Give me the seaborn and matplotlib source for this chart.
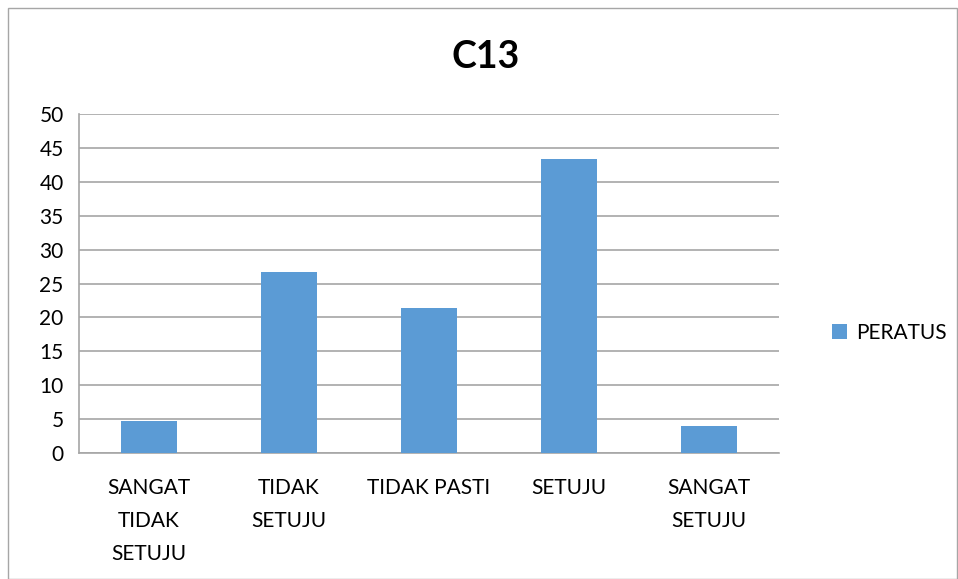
import matplotlib
matplotlib.use("Agg")
import matplotlib.pyplot as plt
from matplotlib.patches import Rectangle
from matplotlib.ticker import FixedLocator
import pandas as pd
import seaborn as sns

# chart data
categories = ["SANGAT\nTIDAK\nSETUJU", "TIDAK\nSETUJU", "TIDAK PASTI", "SETUJU", "SANGAT\nSETUJU"]
peratus = [4.67, 26.67, 21.33, 43.33, 4.0]
series_name = "PERATUS"
title = "C13"
y_ticks = [0, 5, 10, 15, 20, 25, 30, 35, 40, 45, 50]

sns.set_style("white")
plt.rcParams["font.family"] = ["Lato", "DejaVu Sans"]
plt.rcParams["text.color"] = "black"

df = pd.DataFrame({"kategori": categories, "nilai": peratus})

fig = plt.figure(figsize=(9.58, 5.79), dpi=100)
ax = fig.add_axes([79 / 958, 1 - 453 / 579, 700 / 958, 339 / 579])

bar_color = "#5b9bd5"
grid_color = "#a6a6a6"

sns.barplot(data=df, x="kategori", y="nilai", color=bar_color, width=0.4,
            saturation=1, ax=ax, linewidth=0, zorder=3)

ax.set_ylim(0, 50)
ax.set_xlim(-0.5, len(categories) - 0.5)
ax.set_yticks(y_ticks)
ax.yaxis.grid(True, color=grid_color, linewidth=1.2, zorder=0)
ax.set_axisbelow(True)
ax.set_xlabel("")
ax.set_ylabel("")

for side in ["top", "right"]:
    ax.spines[side].set_visible(False)
ax.spines["left"].set_color(grid_color)
ax.spines["bottom"].set_color(grid_color)
ax.spines["left"].set_linewidth(1.2)
ax.spines["bottom"].set_linewidth(1.2)

ax.tick_params(axis="y", length=7, color=grid_color, width=1.2, labelsize=15,
               labelcolor="black", pad=4)
ax.tick_params(axis="x", which="major", length=0, labelsize=15,
               labelcolor="black", pad=18)
ax.xaxis.set_minor_locator(FixedLocator([i - 0.5 for i in range(len(categories) + 1)]))
ax.tick_params(axis="x", which="minor", length=8, color=grid_color, width=1.2)
for lbl in ax.get_xticklabels():
    lbl.set_linespacing(1.8)

fig.text(486 / 958, 1 - 57 / 579, title, ha="center", va="center",
         fontsize=27, fontweight="bold", color="black")

handle = Rectangle((0, 0), 1, 1, facecolor=bar_color, edgecolor="none")
fig.legend(handles=[handle], labels=[series_name], loc="center left",
           bbox_to_anchor=(813 / 958, 1 - 333 / 579), frameon=False,
           fontsize=15, handlelength=0.75, handleheight=0.75, handletextpad=0.4)

# outer chart border
fig.patches.append(Rectangle((8 / 958, 0), 1 - 9 / 958, 1 - 8 / 579,
                             transform=fig.transFigure, fill=False,
                             edgecolor="#a6a6a6", linewidth=1))

fig.savefig("out.png", dpi=100)
